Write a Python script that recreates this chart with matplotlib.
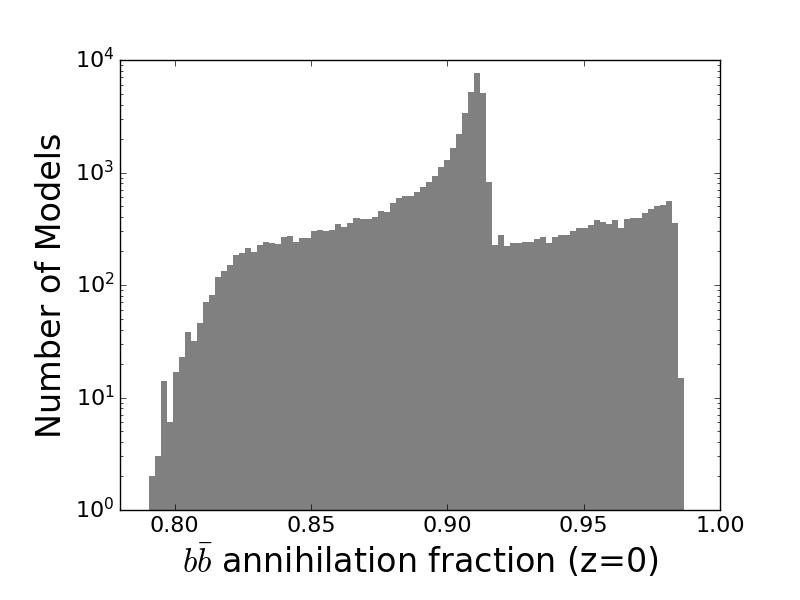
import numpy as np
import matplotlib
matplotlib.use("Agg")
import matplotlib.pyplot as plt

# Histogram bin range and counts
bin_start = 0.7907
bin_stop = 0.9868
counts = [
    2.0, 3.0, 14, 6, 17, 23, 38, 32, 46, 71,
    82, 118, 134, 151, 185, 192, 213, 197, 227, 241,
    236, 231, 267, 273, 241, 262, 262, 302, 308, 302,
    308, 349, 328, 356, 394, 386, 386, 402, 455, 446,
    536, 593, 618, 618, 671, 743, 824, 931, 1119, 1292,
    1652, 2200, 3380, 5195, 7660, 5090, 824, 227, 278, 222,
    236, 236, 241, 241, 256, 267, 236, 267, 278, 278,
    302, 321, 321, 341, 378, 363, 349, 378, 321, 386,
    394, 394, 436, 474, 504, 514, 558, 356, 15,
]
x_ticks = [0.80, 0.85, 0.90, 0.95, 1.00]
x_label = r"$b\bar{b}$ annihilation fraction (z=0)"
y_label = "Number of Models"

plt.style.use("classic")
fig = plt.figure(figsize=(8, 6), dpi=100, facecolor="white")
ax = fig.add_subplot(111)
fig.subplots_adjust(left=0.15, right=0.9, bottom=0.15, top=0.9)

edges = np.linspace(bin_start, bin_stop, len(counts) + 1)
centers = 0.5 * (edges[:-1] + edges[1:])
ax.hist(centers, bins=edges, weights=counts, color="0.5", linewidth=0,
        edgecolor="none", log=True)

ax.set_xlim(0.78, 1.00)
ax.set_ylim(1, 1e4)
ax.set_xticks(x_ticks)
ax.set_xticklabels([f"{t:.2f}" for t in x_ticks])
ax.tick_params(labelsize=16)
ax.set_xlabel(x_label, fontsize=24)
ax.set_ylabel(y_label, fontsize=24)

fig.savefig("out.png", dpi=100, facecolor="white")
